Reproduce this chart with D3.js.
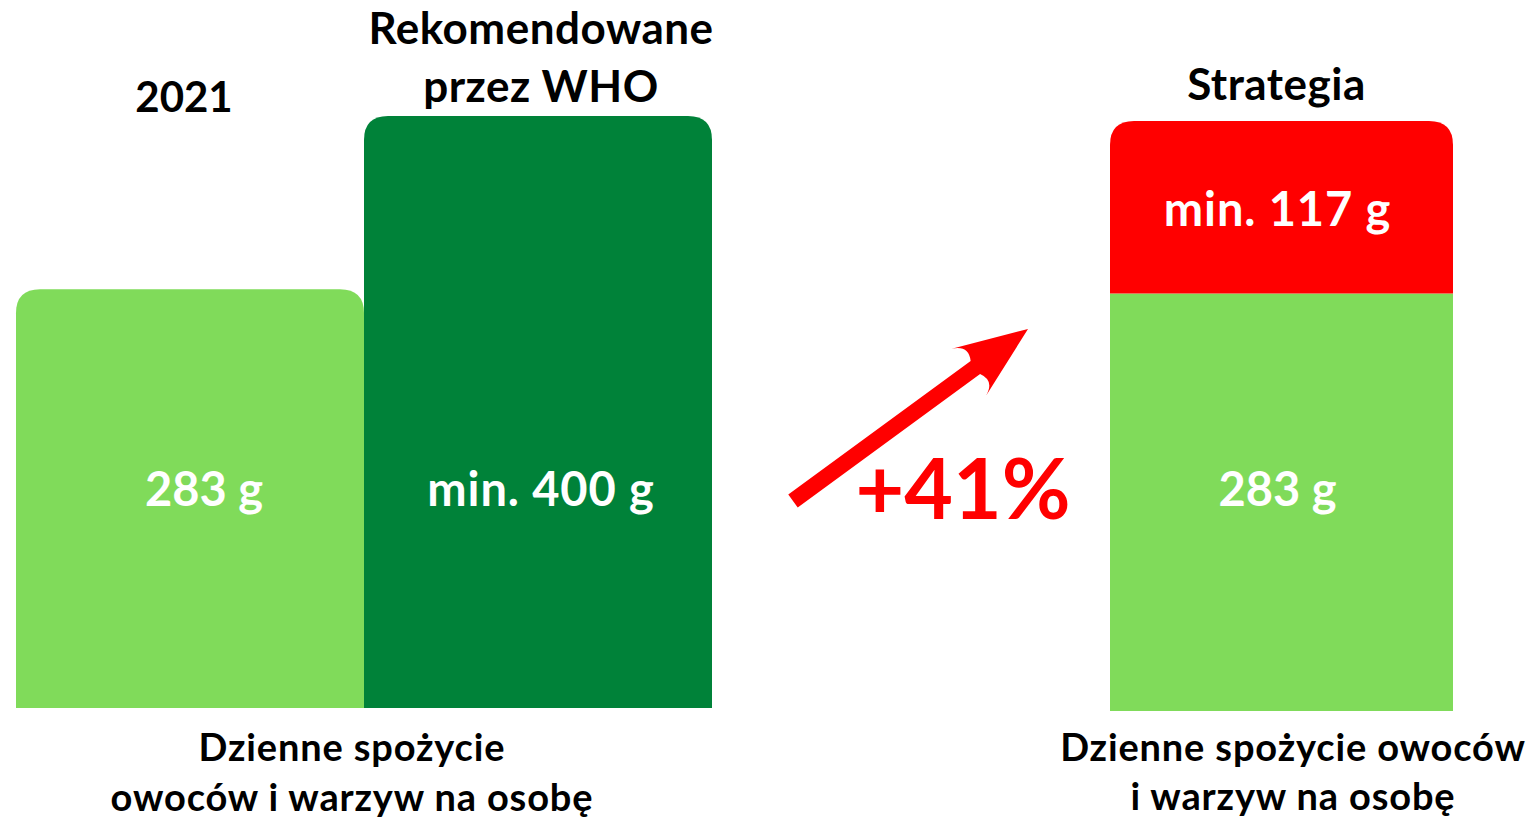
<!DOCTYPE html>
<html>
<head>
<meta charset="utf-8">
<script src="https://cdn.jsdelivr.net/npm/d3@7"></script>
<style>
  body { margin: 0; background: #fff; }
  svg text { font-family: Lato, "Open Sans", sans-serif; font-weight: 700; }
</style>
</head>
<body>
<div id="content"></div>
<script>
(function(d3) {

   // data
   var leftCats = ["2021", "WHO"];
   var leftTitles = [["2021"], ["Rekomendowane", "przez WHO"]];
   var leftValues = [283, 400];
   var leftLabels = ["283 g", "min. 400 g"];
   var leftColors = ["#80db5a", "#008239"];

   var stratCats = ["Strategia"];
   var stratBase = [283];
   var stratExtra = [117];
   var stratLabels = ["283 g", "min. 117 g"];
   var growthLabel = "+41%";

   var leftFooter = ["Dzienne spożycie", "owoców i warzyw na osobę"];
   var rightFooter = ["Dzienne spożycie owoców", "i warzyw na osobę"];

   var win_width = 1529;
   var win_height = 820;

   var svg = d3.select("#content")
            .append("svg")
            .attr("width", win_width)
            .attr("height", win_height);

   // scales
   var xLeft = d3.scaleBand().domain(leftCats).range([16, 712]).padding(0);
   var yLeft = d3.scaleLinear().domain([0, 400]).range([708, 116]);
   var xRight = d3.scaleBand().domain(stratCats).range([1110, 1453]).padding(0);
   var yRight = d3.scaleLinear().domain([0, 400]).range([711, 121]);

   var radius = 24;

   // rect with rounded top corners
   function topRounded(x, y, w, h, r) {
        return "M" + x + "," + (y + h) +
               "V" + (y + r) +
               "Q" + x + "," + y + " " + (x + r) + "," + y +
               "H" + (x + w - r) +
               "Q" + (x + w) + "," + y + " " + (x + w) + "," + (y + r) +
               "V" + (y + h) + "Z";
   }

   // left bars
   svg.selectAll(".lbar")
      .data(leftValues)
      .enter().append("path")
      .attr("class", "lbar")
      .attr("d", function(d, i) {
           return topRounded(xLeft(leftCats[i]), yLeft(d), xLeft.bandwidth(), yLeft(0) - yLeft(d), radius);
      })
      .style("fill", function(d, i) { return leftColors[i]; });

   svg.selectAll(".llabel")
      .data(leftLabels)
      .enter().append("text")
      .attr("class", "llabel")
      .attr("x", function(d, i) { return xLeft(leftCats[i]) + xLeft.bandwidth() / 2 + (i === 0 ? 14 : 3); })
      .attr("y", 506)
      .attr("text-anchor", "middle")
      .style("font-size", "47px")
      .style("letter-spacing", function(d, i) { return i === 0 ? "0px" : "0.9px"; })
      .style("fill", "#fff")
      .text(function(d) { return d; });

   // titles over left bars
   var lt = svg.selectAll(".ltitle")
      .data(leftTitles)
      .enter().append("text")
      .attr("class", "ltitle")
      .attr("text-anchor", "middle")
      .style("font-size", function(d, i) { return i === 0 ? "42px" : "44px"; })
      .style("letter-spacing", function(d, i) { return i === 0 ? "0px" : "0.5px"; })
      .style("fill", "#000");
   lt.each(function(lines, i) {
        var cx = xLeft(leftCats[i]) + xLeft.bandwidth() / 2 + (i === 0 ? -6 : 3);
        var base = lines.length === 1 ? 112 : 44;
        d3.select(this).selectAll("tspan")
          .data(lines)
          .enter().append("tspan")
          .attr("x", cx)
          .attr("y", function(d, j) { return base + j * 58; })
          .text(function(d) { return d; });
   });

   // strategy stacked bar
   var sx = xRight(stratCats[0]);
   var sw = xRight.bandwidth();
   svg.append("rect")
      .attr("x", sx)
      .attr("y", yRight(stratBase[0]))
      .attr("width", sw)
      .attr("height", yRight(0) - yRight(stratBase[0]))
      .style("fill", leftColors[0]);
   svg.append("path")
      .attr("d", topRounded(sx, yRight(stratBase[0] + stratExtra[0]), sw,
                            yRight(stratBase[0]) - yRight(stratBase[0] + stratExtra[0]), radius))
      .style("fill", "#ff0000");

   svg.append("text")
      .attr("x", sx + sw / 2 - 4)
      .attr("y", 506)
      .attr("text-anchor", "middle")
      .style("font-size", "47px")
      .style("fill", "#fff")
      .text(stratLabels[0]);
   svg.append("text")
      .attr("x", sx + sw / 2 - 4)
      .attr("y", (yRight(stratBase[0]) + yRight(stratBase[0] + stratExtra[0])) / 2 + 19)
      .attr("text-anchor", "middle")
      .style("font-size", "47px")
      .style("letter-spacing", "0.9px")
      .style("fill", "#fff")
      .text(stratLabels[1]);
   svg.append("text")
      .attr("x", sx + sw / 2 - 5)
      .attr("y", 100)
      .attr("text-anchor", "middle")
      .style("font-size", "44px")
      .style("letter-spacing", "0.5px")
      .style("fill", "#000")
      .text(stratCats[0]);

   // arrow (local frame: along axis / across)
   var tail = [793, 501], tip = [1028, 329];
   var dx = tip[0] - tail[0], dy = tip[1] - tail[1];
   var len = Math.sqrt(dx * dx + dy * dy);
   var ux = dx / len, uy = dy / len, nx = -uy, ny = ux;
   function pt(a, p) { return [tail[0] + ux * a + nx * p, tail[1] + uy * a + ny * p]; }
   var path = d3.path();
   var p;
   p = pt(0, 8); path.moveTo(p[0], p[1]);
   p = pt(226, 8); path.lineTo(p[0], p[1]);
   var c = pt(234, 22), b = pt(218, 29);
   path.quadraticCurveTo(c[0], c[1], b[0], b[1]);
   p = pt(len, 0); path.lineTo(p[0], p[1]);
   b = pt(218, -29); path.lineTo(b[0], b[1]);
   c = pt(234, -22); p = pt(226, -8);
   path.quadraticCurveTo(c[0], c[1], p[0], p[1]);
   p = pt(0, -8); path.lineTo(p[0], p[1]);
   path.closePath();
   svg.append("path").attr("d", path.toString()).style("fill", "#ff0000");

   svg.append("text")
      .attr("x", 963)
      .attr("y", 519)
      .attr("text-anchor", "middle")
      .style("font-size", "84px")
      .style("fill", "#ff0000")
      .text(growthLabel);

   // footers
   function footer(lines, cx, bases) {
        var t = svg.append("text")
                   .attr("text-anchor", "middle")
                   .style("font-size", "38px")
                   .style("letter-spacing", "0.85px")
                   .style("fill", "#000");
        t.selectAll("tspan").data(lines).enter().append("tspan")
         .attr("x", cx)
         .attr("y", function(d, i) { return bases[i]; })
         .text(function(d) { return d; });
   }
   footer(leftFooter, 352, [761, 811]);
   footer(rightFooter, 1293, [761, 810]);

})(window.d3);
</script>
</body>
</html>
